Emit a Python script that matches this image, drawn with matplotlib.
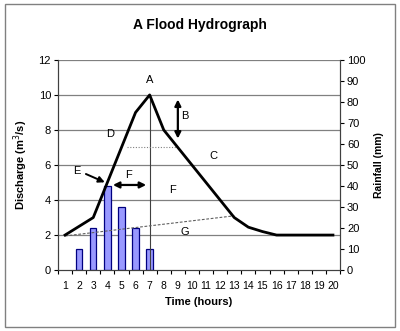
import matplotlib
matplotlib.use("Agg")
import matplotlib.pyplot as plt
from matplotlib.patches import Rectangle

plt.rcParams['font.family'] = ['Liberation Sans', 'DejaVu Sans']

hours = list(range(1, 21))
discharge = [2, 2.5, 3, 5, 7, 9, 10, 8, 7, 6, 5, 4, 3, 2.45, 2.2, 2, 2, 2, 2, 2]
rain_hours = [2, 3, 4, 5, 6, 7]
rainfall = [10, 20, 40, 30, 20, 10]
discharge_ticks = [0, 2, 4, 6, 8, 10, 12]
rain_ticks = [0, 10, 20, 30, 40, 50, 60, 70, 80, 90, 100]

fig = plt.figure(figsize=(4, 3.31), dpi=100)
fig.patches.append(Rectangle((0.012, 0.012), 0.976, 0.976, transform=fig.transFigure,
                             fill=False, edgecolor='#808080', linewidth=1.0))

ax = fig.add_axes([0.145, 0.184, 0.705, 0.635])
ax2 = ax.twinx()
ax.set_zorder(2)
ax2.set_zorder(1)
ax.patch.set_visible(False)

ax.set_xlim(0.5, 20.5)
ax.set_ylim(0, 12)
ax2.set_ylim(0, 100)

# gridlines behind bars
for d in discharge_ticks[1:]:
    ax2.axhline(d * 100 / 12, color='#808080', linewidth=0.9, zorder=0)

ax2.bar(rain_hours, rainfall, width=0.45, color='#9999FF', edgecolor='#000080',
        linewidth=0.9, zorder=2)

# vertical line at end of rainfall
ax.plot([7, 7], [0, 10], color='#404040', linewidth=0.8, zorder=1)
# dotted line D
ax.plot([5.4, 8.9], [7.05, 7.05], color='#808080', linewidth=0.8, linestyle=(0, (1, 1.5)))
# baseflow separation G
ax.plot([1, 13], [1.95, 3.1], color='#606060', linewidth=0.8, linestyle=(0, (2.5, 1.5)))

ax.plot(hours, discharge, color='black', linewidth=2.0, zorder=3)

# arrows
arr = dict(arrowstyle='<|-|>', color='black', linewidth=1.6, mutation_scale=9)
ax.annotate('', xy=(9.0, 9.9), xytext=(9.0, 7.35), arrowprops=arr)
ax.annotate('', xy=(4.2, 4.86), xytext=(6.95, 4.86), arrowprops=arr)
ax.annotate('', xy=(4.0, 4.95), xytext=(2.3, 5.55),
            arrowprops=dict(arrowstyle='-|>', color='black', linewidth=1.4, mutation_scale=9))

lab = dict(fontsize=8, ha='center', va='center')
ax.text(7.0, 10.85, 'A', **lab)
ax.text(9.5, 8.8, 'B', **lab)
ax.text(11.5, 6.5, 'C', **lab)
ax.text(4.2, 7.75, 'D', **lab)
ax.text(1.85, 5.67, 'E', **lab)
ax.text(5.5, 5.45, 'F', **lab)
ax.text(8.6, 4.55, 'F', **lab)
ax.text(9.5, 2.2, 'G', **lab)

ax.set_yticks(discharge_ticks)
ax2.set_yticks(rain_ticks)
ax.set_xticks(hours)
ax.set_xticklabels([str(h) for h in hours])
ax.set_xticks([h + 0.5 for h in range(0, 21)], minor=True)
ax.tick_params(axis='x', which='major', length=0, labelsize=7.5, pad=8)
ax.tick_params(axis='x', which='minor', length=3, direction='out', width=0.8)
ax.tick_params(axis='y', length=3, width=0.8, labelsize=8, pad=2)
ax2.tick_params(axis='y', length=3, width=0.8, labelsize=8, pad=2)

for a in (ax, ax2):
    a.spines['top'].set_visible(False)
    for s in ('left', 'right', 'bottom'):
        a.spines[s].set_color('#404040')
        a.spines[s].set_linewidth(0.8)

ax.set_ylabel('Discharge (m$^3$/s)', fontsize=8, fontweight='bold', labelpad=6)
ax2.set_ylabel('Rainfall (mm)', fontsize=7.5, fontweight='bold', labelpad=6)
ax.set_xlabel('Time (hours)', fontsize=8, fontweight='bold', labelpad=4)
fig.text(0.5, 0.925, 'A Flood Hydrograph', fontsize=10, fontweight='bold', ha='center', va='center')

fig.savefig('out.png', dpi=100)
